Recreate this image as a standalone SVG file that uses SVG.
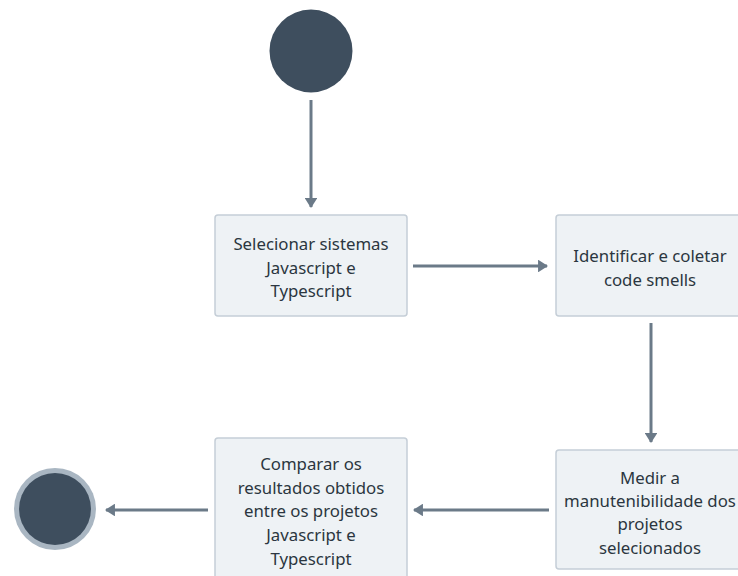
<svg xmlns="http://www.w3.org/2000/svg" width="738" height="576" viewBox="0 0 738 576">
<defs>
<style>
.box{fill:#eef2f5;stroke:#c5ced7;stroke-width:1.5}
.lbl{font-family:"Noto Sans","DejaVu Sans",sans-serif;font-size:16.8px;fill:#2b3640;text-anchor:middle;dominant-baseline:central}
.edge{stroke:#6b7a88;stroke-width:3;fill:none}
.dot{fill:#3e4e5e}
</style>
<marker id="ah" viewBox="0 0 10 10" refX="9" refY="5" markerWidth="3.3" markerHeight="4.2" markerUnits="strokeWidth" orient="auto" preserveAspectRatio="none">
<path d="M0,0 L10,5 L0,10 z" fill="#6b7a88"/>
</marker>
</defs>
<rect width="738" height="576" fill="#ffffff"/>
<g id="connectors">
<line class="edge" x1="311" y1="100" x2="311" y2="207" marker-end="url(#ah)"/>
<line class="edge" x1="413" y1="266" x2="547" y2="266" marker-end="url(#ah)"/>
<line class="edge" x1="651" y1="323" x2="651" y2="442" marker-end="url(#ah)"/>
<line class="edge" x1="549" y1="510" x2="414" y2="510" marker-end="url(#ah)"/>
<line class="edge" x1="208" y1="510" x2="106" y2="510" marker-end="url(#ah)"/>
</g>
<g id="start">
<circle class="dot" cx="311" cy="51" r="41.5"/>
</g>
<g id="n1">
<rect class="box" x="215" y="215" width="192" height="101" rx="3"/>
<text class="lbl" x="311" y="243">Selecionar sistemas</text>
<text class="lbl" x="311" y="267">Javascript e</text>
<text class="lbl" x="311" y="290">Typescript</text>
</g>
<g id="n2">
<rect class="box" x="556" y="215" width="192" height="101" rx="3"/>
<text class="lbl" x="650" y="255">Identificar e coletar</text>
<text class="lbl" x="650" y="279">code smells</text>
</g>
<g id="n3">
<rect class="box" x="556" y="450" width="192" height="119" rx="3"/>
<text class="lbl" x="650" y="477">Medir a</text>
<text class="lbl" x="650" y="500">manutenibilidade dos</text>
<text class="lbl" x="650" y="523">projetos</text>
<text class="lbl" x="650" y="547">selecionados</text>
</g>
<g id="n4">
<rect class="box" x="215" y="438" width="192" height="144" rx="3"/>
<text class="lbl" x="311" y="463">Comparar os</text>
<text class="lbl" x="311" y="487">resultados obtidos</text>
<text class="lbl" x="311" y="510">entre os projetos</text>
<text class="lbl" x="311" y="534">Javascript e</text>
<text class="lbl" x="311" y="558">Typescript</text>
</g>
<g id="end">
<circle cx="55" cy="509" r="41" fill="#a9b6c2"/>
<circle class="dot" cx="55" cy="509" r="36"/>
</g>
</svg>
